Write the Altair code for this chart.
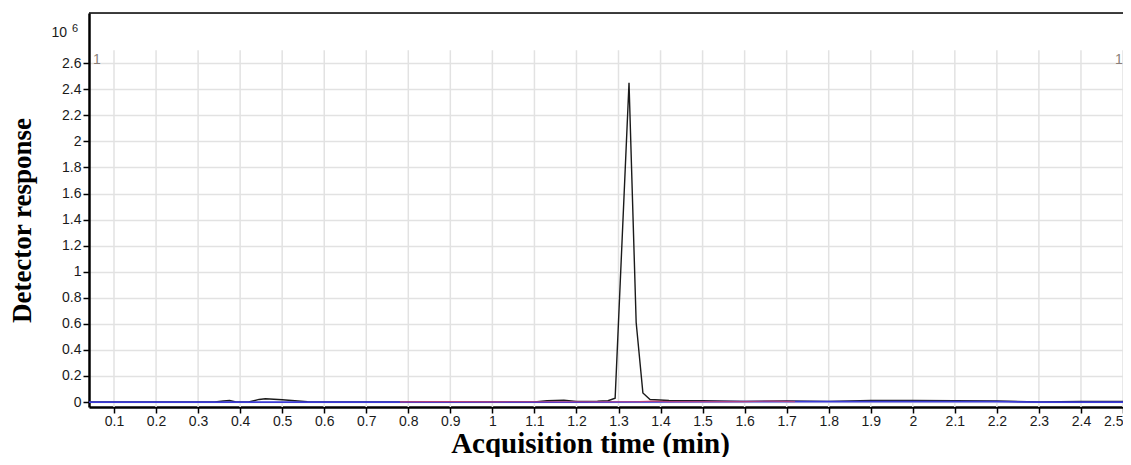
import altair as alt
import pandas as pd

# ---- data (response in units of 10^6) ----
black_t = [0.04, 0.34, 0.36, 0.375, 0.39, 0.42, 0.445, 0.46, 0.48, 0.50, 0.53, 0.56, 0.60,
           1.10, 1.13, 1.17, 1.20, 1.25, 1.275, 1.292, 1.325, 1.342, 1.358, 1.375, 1.42,
           1.50, 1.60, 1.70, 1.80, 1.85, 1.90, 2.00, 2.10, 2.20, 2.30, 2.40, 2.50]
black_y = [0.0, 0.0, 0.008, 0.012, 0.0, 0.0, 0.02, 0.025, 0.022, 0.018, 0.01, 0.003, 0.0,
           0.0, 0.01, 0.015, 0.005, 0.006, 0.01, 0.03, 2.45, 0.61, 0.07, 0.02, 0.012,
           0.01, 0.005, 0.008, 0.005, 0.008, 0.012, 0.012, 0.01, 0.008, 0.0, 0.004, 0.004]

blue_t = [0.04, 0.80, 1.20, 1.40, 1.60, 1.80, 2.00, 2.20, 2.30, 2.50]
blue_y = [0.0, 0.0, 0.0, 0.002, 0.003, 0.004, 0.004, 0.003, 0.0, 0.0]

red_t = [0.78, 0.85, 0.92, 1.00, 1.35, 1.38, 1.42, 1.60, 1.66, 1.72]
red_y = [0.002, 0.004, 0.003, 0.002, 0.004, 0.007, 0.003, 0.004, 0.007, 0.003]

x_ticks = [0.1, 0.2, 0.3, 0.4, 0.5, 0.6, 0.7, 0.8, 0.9, 1.0, 1.1, 1.2, 1.3,
           1.4, 1.5, 1.6, 1.7, 1.8, 1.9, 2.0, 2.1, 2.2, 2.3, 2.4, 2.5]
y_ticks = [0, 0.2, 0.4, 0.6, 0.8, 1.0, 1.2, 1.4, 1.6, 1.8, 2.0, 2.2, 2.4, 2.6]

X_DOMAIN = [0.0405, 2.5]
Y_DOMAIN = [-0.038, 2.985]
GRID_TOP = 2.70

W, H = 1034, 394

black_df = pd.DataFrame({"t": black_t, "y": black_y})
blue_df = pd.DataFrame({"t": blue_t, "y": blue_y})
red_df = pd.DataFrame({"t": red_t, "y": red_y})
vgrid_df = pd.DataFrame({"t": x_ticks, "top": [GRID_TOP] * len(x_ticks)})

LABEL_FONT = "Liberation Sans"
TITLE_FONT = "Liberation Serif"

xscale = alt.Scale(domain=X_DOMAIN, nice=False, zero=False)
yscale = alt.Scale(domain=Y_DOMAIN, nice=False, zero=False)

x_axis = alt.Axis(
    values=x_ticks, format="~g", grid=False,
    title="Acquisition time (min)", titleFont=TITLE_FONT, titleFontSize=29,
    titleFontWeight="bold", titleColor="#000000",
    titleX=501, titleY=36, titleBaseline="middle", titleAlign="center",
    labelFont=LABEL_FONT, labelFontSize=14, labelColor="#1a1a1a",
    labelPadding=1, labelFlush=True, labelOverlap=False,
    tickSize=6, tickColor="#000000", tickWidth=1.5,
    domainColor="#000000", domainWidth=2.5,
)
y_axis = alt.Axis(
    values=y_ticks, format="~g", grid=True, gridColor="#e2e2e2", gridWidth=1.5,
    title="Detector response", titleFont=TITLE_FONT, titleFontSize=27,
    titleFontWeight="bold", titleColor="#000000", titleAngle=270,
    titleX=-67, titleY=207, titleBaseline="middle", titleAlign="center",
    labelFont=LABEL_FONT, labelFontSize=14, labelColor="#1a1a1a",
    labelPadding=2, labelFlush=False, labelOverlap=False,
    tickSize=6, tickColor="#000000", tickWidth=1.5,
    domainColor="#000000", domainWidth=2.5,
)

vgrid = alt.Chart(vgrid_df).mark_rule(color="#e2e2e2", strokeWidth=1.5).encode(
    x=alt.X("t:Q", scale=xscale, axis=x_axis),
    y=alt.Y("top:Q", scale=yscale, axis=y_axis),
    y2=alt.value(H),
)

black_line = alt.Chart(black_df).mark_line(color="#1a1a1a", strokeWidth=1.4, clip=True).encode(
    x=alt.X("t:Q", scale=xscale, axis=x_axis), y=alt.Y("y:Q", scale=yscale, axis=y_axis))
blue_line = alt.Chart(blue_df).mark_line(color="#3a3ad6", strokeWidth=1.8, clip=True).encode(
    x=alt.X("t:Q", scale=xscale, axis=x_axis), y=alt.Y("y:Q", scale=yscale, axis=y_axis))
red_line = alt.Chart(red_df).mark_line(color="#e04060", strokeWidth=1.2, opacity=0.7, clip=True).encode(
    x=alt.X("t:Q", scale=xscale, axis=x_axis), y=alt.Y("y:Q", scale=yscale, axis=y_axis))

top_border = alt.Chart(pd.DataFrame({"a": [0]})).mark_rule(color="#000000", strokeWidth=1.5).encode(
    x=alt.value(0), x2=alt.value(W), y=alt.value(0))

ann = pd.DataFrame({"a": [0]})
exp10 = alt.Chart(ann).mark_text(font=LABEL_FONT, fontSize=14, color="#1a1a1a",
                                 align="right", baseline="middle").encode(
    x=alt.value(-22), y=alt.value(20), text=alt.value("10"))
exp6 = alt.Chart(ann).mark_text(font=LABEL_FONT, fontSize=11, color="#1a1a1a",
                                align="left", baseline="middle").encode(
    x=alt.value(-17), y=alt.value(16), text=alt.value("6"))
one_left = alt.Chart(ann).mark_text(font=LABEL_FONT, fontSize=14, color="#8a7f78",
                                    align="left", baseline="middle").encode(
    x=alt.value(4), y=alt.value(47), text=alt.value("1"))
one_right = alt.Chart(ann).mark_text(font=LABEL_FONT, fontSize=14, color="#8a7f78",
                                     align="left", baseline="middle").encode(
    x=alt.value(1026), y=alt.value(47), text=alt.value("1"))

chart = alt.layer(
    vgrid, black_line, blue_line, red_line, top_border, exp10, exp6, one_left, one_right
).properties(
    width=W, height=H,
    autosize=alt.AutoSizeParams(type="none"),
    padding={"left": 81, "top": 5, "right": 0, "bottom": 50},
).configure_view(stroke=None).configure(background="#ffffff")

chart.save("out.html", embed_options={"renderer": "svg", "actions": False})
